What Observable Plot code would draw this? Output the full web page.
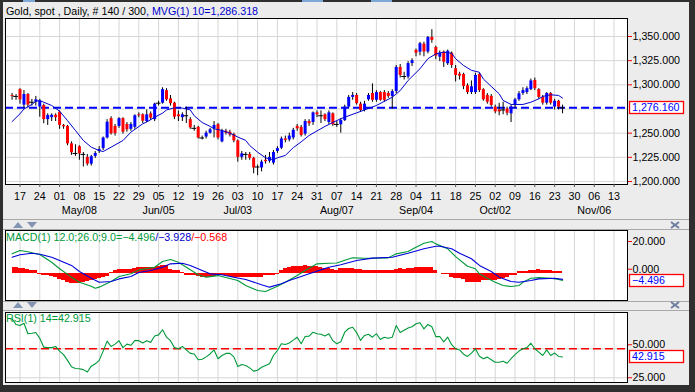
<!DOCTYPE html>
<html><head><meta charset="utf-8">
<script src="https://cdn.jsdelivr.net/npm/d3@7"></script>
<script src="https://cdn.jsdelivr.net/npm/@observablehq/plot@0.6"></script>
<style>
body{margin:0;background:#fff;}
#wrap{position:relative;width:695px;height:392px;background:#2f2f2f;overflow:hidden;font-family:"Liberation Sans",Arial,sans-serif;}
#inner{position:absolute;left:3px;top:2px;width:686px;height:383px;background:#ececec;}
.layer{position:absolute;left:0;}
.lbl{position:absolute;font-size:10.7px;white-space:nowrap;line-height:12px;}
.deco{position:absolute;}
</style></head><body>
<div id="wrap">
  <div id="inner"></div>
  <div class="deco" style="left:23px;top:0;width:12px;height:2px;background:#7fa6d8"></div>
  <div class="deco" style="left:302px;top:0;width:21px;height:2px;background:#7fa6d8"></div>
  <div class="deco" style="left:371px;top:0;width:21px;height:2px;background:#7fa6d8"></div>
  <div class="deco" style="left:3px;top:219px;width:686px;height:1px;background:#a8a8a8"></div>
  <div class="deco" style="left:3px;top:229px;width:686px;height:1px;background:#a8a8a8"></div>
  <div class="deco" style="left:3px;top:301px;width:686px;height:1px;background:#a8a8a8"></div>
  <div class="deco" style="left:3px;top:310px;width:686px;height:1px;background:#a8a8a8"></div>
  <svg class="deco" style="left:0;top:0" width="695" height="392">
    <polygon points="13,228 23,228 18,222" fill="#8494b4"/>
    <polygon points="27,222 37,222 32,228" fill="#8494b4"/>
    <polygon points="13,308 23,308 18,302" fill="#8494b4"/>
    <polygon points="27,302 37,302 32,308" fill="#8494b4"/>
    <g stroke="#6f7fa0" stroke-width="2">
      <line x1="671" y1="222" x2="679" y2="228"/><line x1="679" y1="222" x2="671" y2="228"/>
      <line x1="671" y1="302" x2="679" y2="308"/><line x1="679" y1="302" x2="671" y2="308"/>
    </g>
  </svg>
  <div id="main" class="layer" style="top:0"></div>
  <div id="macd" class="layer" style="top:215px"></div>
  <div id="rsi" class="layer" style="top:305px"></div>
  <div class="lbl" style="left:6px;top:5px"><span style="color:#000">Gold, spot , Daily, # 140 / 300</span><span style="color:#0000cc">, MVG(1) 10=<span id="mvg"></span></span></div>
  <div class="lbl" style="left:6px;top:231px"><span style="color:#00993a">MACD(1) 12.0;26.0;9.0=<span id="m1"></span></span><span style="color:#0000cc">/<span id="m2"></span></span><span style="color:#ff0000">/<span id="m3"></span></span></div>
  <div class="lbl" style="left:6px;top:312px;color:#00993a">RSI(1) 14=<span id="r1"></span></div>
</div>
<script>
// ---- data (trading-day index 0 = Mon Apr 17) ----
const firstDay = -2;
const open = [
1289,1288,1295,1279,1290,1282,1282,1277,1278.6,1264,
1266,1268.5,1271.7,1258,1257,1239,1229,1236,1228,1225,
1218,1226,1231,1234,1245,1265,1257,1257,1265,1259,
1254,1256,1269,1269,1262,1270,1264,1281,1281,1294,
1285.5,1281,1269,1266,1268,1264,1255,1256,1245,1246,
1250,1254.5,1258.7,1241,1252,1251,1248.6,1242,1225,1228,
1228,1224,1215,1214,1222,1221,1219,1231,1234.5,1244,
1243,1245,1257,1256,1249,1262,1261,1271,1268,1269,
1261,1270,1259,1258.7,1263,1277,1287,1289,1280,1273.5,
1284.5,1291,1284,1292,1292,1291,1288,1293,1318,1308.6,
1308,1322,1335.5,1333.8,1342,1334,1349,1338.6,1328.6,1333.8,
1321.8,1332.7,1316.6,1311,1310.7,1299,1292,1292,1310.7,1295,
1289,1288,1277,1274,1274,1275,1270,1279,1284.5,1291,
1292,1295,1304.5,1295,1287,1281,1291,1277,1283,1276.5];
const high = [
1291,1290,1296,1294,1291,1285,1288,1285,1280,1270,
1270,1270,1273,1259,1258,1241,1238,1237,1230,1228,
1227,1231,1236,1246,1264,1267,1259,1266,1266,1261,
1261,1269,1271,1270,1274,1272,1281,1283,1297,1296,
1289,1282,1273,1271,1277,1266,1258,1257,1247,1252,
1255,1262,1260,1254,1254,1253,1250,1243,1231,1230,
1230,1225,1217,1222,1227,1230,1232,1236,1246,1247,
1250,1255,1259,1258,1264,1264,1272,1273,1273,1270,
1273,1271,1262,1265,1279,1289,1292,1291,1282,1283,
1291,1301,1294,1293,1294,1293,1295,1320,1321,1313,
1324,1327,1337,1344,1344,1350,1357,1340,1335,1335,
1336,1334,1320,1313,1312,1301,1304,1312,1312,1296,
1291,1290,1279,1281,1282,1277,1279,1286,1293,1297,
1298,1306,1307,1296,1289,1292,1292,1285,1284,1279];
const low = [
1284,1284,1280,1276,1276,1278,1278,1266.5,1259.7,1258,
1262,1262,1254,1254,1237,1227,1226,1222,1215,1216,
1216,1224,1229,1232,1244,1248,1247,1255,1249,1251,
1252,1254,1266,1260,1261,1263,1262,1278,1280,1283,
1278,1264,1262,1262,1260,1254,1252,1244,1243,1244,
1249,1245,1243,1240,1248,1246,1240,1220,1222,1222,
1222,1208,1206,1210,1218,1219,1217,1229,1233,1240,
1241,1243,1252,1246,1247,1257,1258,1266,1260,1262,
1259,1257,1256,1250,1262,1276,1284,1279,1272,1272,
1283,1282,1282,1283,1282,1286,1275,1291,1307,1305,
1306,1319,1329,1330,1329,1332,1343,1326,1324,1318,
1320,1317,1303,1305,1295,1290,1290,1290,1292,1283,
1280,1277,1270,1268,1269,1268,1261,1276,1283,1289,
1290,1294,1294,1285,1279,1279,1279,1274,1274,1270];
const close = [
1288,1288,1284.5,1290,1279,1282,1284.5,1283,1264,1268.3,
1268.5,1266,1258,1256.5,1239,1229.7,1229,1228.6,1228,1218,
1225.6,1229,1233,1245,1261.3,1249.3,1249.5,1265,1251,1253.5,
1259,1268,1268,1262.4,1269,1265.5,1280,1281,1295,1284.5,
1280.5,1266.5,1267,1269,1268,1255.5,1255,1245,1245,1250,
1253.5,1258,1245,1252,1250,1248,1242,1225,1228.6,1228,
1224,1214,1215,1220,1220.5,1225,1230,1234,1244,1242.5,
1247,1253,1254.5,1247.6,1262,1259.7,1271,1269,1268,1264,
1271,1258.7,1259,1263,1277,1287,1289,1280.5,1273.5,1280,
1289,1284,1292,1284,1284,1288,1293,1318,1309.7,1308.6,
1322,1325,1332.7,1342.5,1334,1349,1346,1329.7,1332.8,1323.4,
1334.8,1320,1309.7,1309,1298.3,1292,1298,1309.7,1294,1284.5,
1282,1278.6,1272,1272,1274,1270.7,1277,1284.5,1290.7,1294,
1296,1304,1296,1287,1281,1291,1281,1283,1277,1276.16];

const maDay = [-2,0,1,3,4,5,6,8,10,12,14,16,18,20,21,23,26,28,31,32,34,36,37,39,41,43,44,46,48,49,51,53,55,57,58,60,62,64,65,67,69,71,73,77,81,85,90,94,96,98,101,103,105,107,109,110,112,114,116,117,119,121,122,124,126,127,129,131,132,134,136,137];
const maVal = [1262,1270,1275,1279.7,1283,1283.8,1282,1278.6,1272.7,1263,1252.8,1242.4,1235.5,1232,1231,1235.5,1242.4,1251,1259.7,1261.5,1266.5,1270.7,1274,1276.2,1276,1274,1268,1261,1257,1254.5,1252.8,1250,1246,1242.5,1237.2,1230.3,1224.5,1222.5,1224.5,1227,1235,1241,1247.6,1257,1265,1271,1278.6,1287.2,1294,1304.5,1316.6,1327,1332,1333.8,1332.7,1327,1320,1315,1313,1306,1298.3,1290.7,1283.8,1279.7,1279.7,1279.7,1282,1285.5,1288,1289.7,1289,1286.3];

const macdDay = [-2,0,2,3,5,8,10,13,15,18,19,20,23,25,28,30,34,36,38,40,42,45,47,50,52,55,57,60,62,65,67,70,72,75,78,80,82,84,87,89,93,95,98,100,102,104,105,108,110,113,115,116,118,120,122,124,126,127,129,131,134,136,137];
const macdVal = [12.2,14.3,13.5,12.9,11.8,6.9,2.8,-2.5,-5.7,-8.2,-9.5,-8.8,-5.2,-2.1,-0.4,2.1,3.8,7.4,8.6,6.9,3.8,-1,-2.5,-1.5,-2.7,-4.6,-7.8,-10.9,-11.5,-8.2,-5.7,-1.5,1.7,5.9,6.3,6.4,8.2,9.7,9.4,9.4,9.7,12.2,13.7,16.4,18.9,20,18.5,15.4,10.5,4.4,2.8,-0.4,-3.2,-5.7,-7.8,-8.4,-7.8,-5.7,-3.2,-2.8,-3.2,-4,-4.5];
const sigDay = [-2,0,3,5,8,10,13,15,18,20,23,25,28,30,33,36,38,41,43,46,48,51,54,57,61,63,66,68,71,73,76,78,81,85,89,94,98,102,105,106,109,111,114,116,119,121,124,126,129,131,135,137];
const sigVal = [10.1,11.6,12.6,12,10.1,8,4.9,1.1,-3.2,-5.7,-5.2,-3.6,-2.1,0.4,1.7,3.8,5.9,6.3,4.9,1.7,-0.4,-1,-2.5,-4,-7.3,-8.8,-6.7,-4.6,-2.1,-0.4,2.1,3.8,5.3,8,9.5,10.1,12.6,15.4,17,17,15.4,12.6,9.1,4.9,1.1,-2.5,-5.2,-5.7,-4.6,-3.6,-3.2,-3.9];
const histVal = [
3.8,3.8,3.2,3,2.2,2,1.8,-0.8,-1.5,-1.5,
-1.8,-2.5,-4.2,-4.8,-5.8,-6.4,-6.6,-6.3,-6,-5.4,
-4.6,-4,-3.6,-2.4,-1.8,0.3,2,2.3,2.3,2.5,
2.6,3.2,3.4,3.4,3.6,3.8,3.8,4,4.8,4.6,
2.4,2,1.8,0.6,-1.2,-1.5,-1.6,-1.8,-2.4,-2.5,
-2.6,-2.2,-1.5,-1.4,-1.5,-1.8,-2.6,-2.8,-2.8,-2.7,
-2.8,-2.9,-2.6,-2.4,-1.6,-1.5,-1.2,-0.6,1.7,3.2,
3.8,4.2,4.4,4.4,4.6,4.4,4.4,4.2,3.6,3,
3,2.6,1.7,2.7,2.8,2.9,2.8,2.6,2.2,1.7,
1.7,1.6,1.7,1.5,1.4,1.4,1.5,2.6,2.7,2.6,
2.8,2.9,3.6,3.8,3.9,3.8,3.6,1.7,-0.4,-0.8,
-1,-3,-3.4,-3.6,-3.8,-5.7,-5.7,-5.7,-5.6,-4.6,
-4.6,-4.5,-4.4,-3.8,-3.4,-3,-1.6,-1.2,0.8,1,
1.2,1.8,2,2.1,1.8,1.6,1.5,1,1,1];
const rsiVal = [
76,71,70,72,63,63.4,64,59,51.4,51,
51,52,48,45,40,34.5,33,32.8,32,30,
35,37,40,48,56.6,52,54,57,51,54,
53,57,57,55,57,55.5,61,62,66.4,60,
57,51,50,52,49,46,45.5,40.5,41,43,
45.5,49,41.4,44.2,46,46,43,34.7,36.5,35.6,
33.5,30.7,31.5,34,35.6,37,44.2,48.5,54.3,53.7,
55,57.5,60,54.3,60.6,60.9,64.3,63,62.5,61,
62.9,57,54.3,56,64.3,67.5,68.6,64,57.2,61.5,
62.5,60,63,58,60,59,60,70,64,66,
68,69,71.6,72.5,67.2,71,69,60.5,60.6,56,
60,53.5,50,49,45.3,43.4,46.3,50,43.6,41.4,
42.8,40.5,38.4,38.4,39.3,37.5,41.4,45,48,50,
51,54.8,50,47.1,44.2,49,44.2,46.3,43.4,42.915];

const lastClose = 1276.16, mvgLast = 1286.318;
const macdLast = -4.496, signalLast = -3.928, histLast = -0.568, rsiLast = 42.915;

const priceGrid = [1200, 1225, 1250, 1275, 1300, 1325, 1350];
const priceTicks = [1200, 1225, 1250, 1300, 1325, 1350];
const macdTicks = [20, 0];
const rsiTicks = [50, 25];
const rsiMid = 50;
const weekLabels = ["17","24","01","08","15","22","29","05","12","19","26","03","10","17","24","31","07","14","21","28","04","11","18","25","02","09","16","23","30","06","13"];
const monthLabels = ["May/08","Jun/05","Jul/03","Aug/07","Sep/04","Oct/02","Nov/06"];
const monthWeek = [3, 7, 11, 16, 20, 24, 29];

// ---- build ----
const fmt3 = d3.format(",.3f");
const weekIdx = weekLabels.map((_, k) => k * 5);
const monthIdx = monthWeek.map(w => w * 5);
const candles = close.map((c, k) => ({i: firstDay + k, o: open[k], h: high[k], l: low[k], c}));
const ups = candles.filter(d => d.c - d.o >= 0.6);
const downs = candles.filter(d => d.o - d.c >= 0.6);
const dojis = candles.filter(d => Math.abs(d.c - d.o) < 0.6);
const ma = maDay.map((i, k) => ({i, v: maVal[k]}));
const macd = macdDay.map((i, k) => ({i, v: macdVal[k]}));
const sig = sigDay.map((i, k) => ({i, v: sigVal[k]}));
const hist = histVal.map((h, k) => ({i: firstDay + k, h}));
const rsi = rsiVal.map((v, k) => ({i: firstDay + k, v}));

const xDomain = [-3.66, 153.4];
const gridColor = "#d6d6d6";
const style = {background: "transparent", fontFamily: "'Liberation Sans', Arial, sans-serif", fontSize: "10.7px", color: "black", overflow: "visible"};
const common = {width: 695, marginLeft: 5, marginRight: 68, style};
const axisOpts = {anchor: "right", tickFormat: fmt3, tickSize: 4, tickPadding: 1, stroke: "#ff0000", fill: "black", label: null};

const main = Plot.plot({
  ...common, height: 220, marginTop: 18, marginBottom: 36,
  x: {type: "linear", domain: xDomain, label: null},
  y: {domain: [1196.9, 1368.6], label: null},
  marks: [
    Plot.frame({fill: "white"}),
    Plot.gridX({ticks: weekIdx, stroke: gridColor, strokeOpacity: 1}),
    Plot.gridY({ticks: priceGrid, stroke: gridColor, strokeOpacity: 1}),
    Plot.ruleY([lastClose], {stroke: "#0000ff", strokeWidth: 2, strokeDasharray: "8,4"}),
    Plot.ruleX(candles, {x: "i", y1: "l", y2: "h", stroke: "black", strokeWidth: 1}),
    Plot.ruleX(ups, {x: "i", y1: "o", y2: "c", stroke: "#0000ff", strokeWidth: 3}),
    Plot.ruleX(downs, {x: "i", y1: "o", y2: "c", stroke: "#ff0000", strokeWidth: 3}),
    Plot.ruleY(dojis, {y: "c", x1: d => d.i - 0.6, x2: d => d.i + 0.6, stroke: "black"}),
    Plot.line(ma, {x: "i", y: "v", stroke: "#0000cc", strokeWidth: 1}),
    Plot.frame({stroke: "black"}),
    Plot.axisY({...axisOpts, ticks: priceTicks}),
    Plot.axisX({ticks: weekIdx, tickFormat: d => weekLabels[Math.round(d / 5)], tickSize: 3, tickPadding: 5, stroke: "#555", fill: "black", label: null}),
    Plot.axisX({ticks: monthIdx, tickFormat: d => monthLabels[monthIdx.indexOf(d)], tickSize: 0, tickPadding: 22, fill: "black", label: null})
  ]
});

const macdPlot = Plot.plot({
  ...common, height: 90, marginTop: 15, marginBottom: 5,
  x: {type: "linear", domain: xDomain, axis: null},
  y: {domain: [-17.22, 26.94], label: null},
  marks: [
    Plot.frame({fill: "white"}),
    Plot.gridX({ticks: weekIdx, stroke: gridColor, strokeOpacity: 1}),
    Plot.areaY(hist, {x: "i", y1: 0, y2: "h", curve: "step", fill: "#ff0000", shapeRendering: "crispEdges"}),
    Plot.line(macd, {x: "i", y: "v", stroke: "#00993a", strokeWidth: 1.1}),
    Plot.line(sig, {x: "i", y: "v", stroke: "#0000dd", strokeWidth: 1.1}),
    Plot.frame({stroke: "black"}),
    Plot.axisY({...axisOpts, ticks: [macdTicks[0]]}),
    Plot.axisY({...axisOpts, ticks: [macdTicks[1]], dy: -4})
  ]
});

const rsiPlot = Plot.plot({
  ...common, height: 80, marginTop: 7, marginBottom: 3,
  x: {type: "linear", domain: xDomain, axis: null},
  y: {domain: [20.9, 81.3], label: null},
  marks: [
    Plot.frame({fill: "white"}),
    Plot.gridX({ticks: weekIdx, stroke: gridColor, strokeOpacity: 1}),
    Plot.gridY({ticks: rsiTicks, stroke: gridColor, strokeOpacity: 1}),
    Plot.ruleY([rsiMid], {stroke: "#ff0000", strokeWidth: 1.5, strokeDasharray: "8,4"}),
    Plot.line(rsi, {x: "i", y: "v", stroke: "#00993a", strokeWidth: 1.1}),
    Plot.frame({stroke: "black"}),
    Plot.axisY({...axisOpts, ticks: [rsiTicks[0]], dy: -4}),
    Plot.axisY({...axisOpts, ticks: [rsiTicks[1]]})
  ]
});

function addBox(plot, value, text) {
  const y = Math.round(plot.scale("y").apply(value));
  const svg = d3.select(plot);
  svg.append("rect").attr("x", 629.5).attr("y", y - 5.5).attr("width", 54).attr("height", 12)
    .attr("fill", "white").attr("stroke", "#ff0000").attr("stroke-width", 1.3);
  svg.append("text").attr("x", 632).attr("y", y + 0.5).attr("dy", "0.35em")
    .attr("text-anchor", "start").attr("fill", "#0000ff").style("font-size", "10.7px").text(text);
}
addBox(main, lastClose, fmt3(lastClose));
addBox(macdPlot, macdLast, d3.format(".3f")(macdLast));
addBox(rsiPlot, rsiLast, d3.format(".3f")(rsiLast));

document.getElementById("main").appendChild(main);
document.getElementById("macd").appendChild(macdPlot);
document.getElementById("rsi").appendChild(rsiPlot);
document.getElementById("mvg").textContent = fmt3(mvgLast);
document.getElementById("m1").textContent = d3.format(".3f")(macdLast);
document.getElementById("m2").textContent = d3.format(".3f")(signalLast);
document.getElementById("m3").textContent = d3.format(".3f")(histLast);
document.getElementById("r1").textContent = d3.format(".3f")(rsiLast);
</script>
</body></html>
